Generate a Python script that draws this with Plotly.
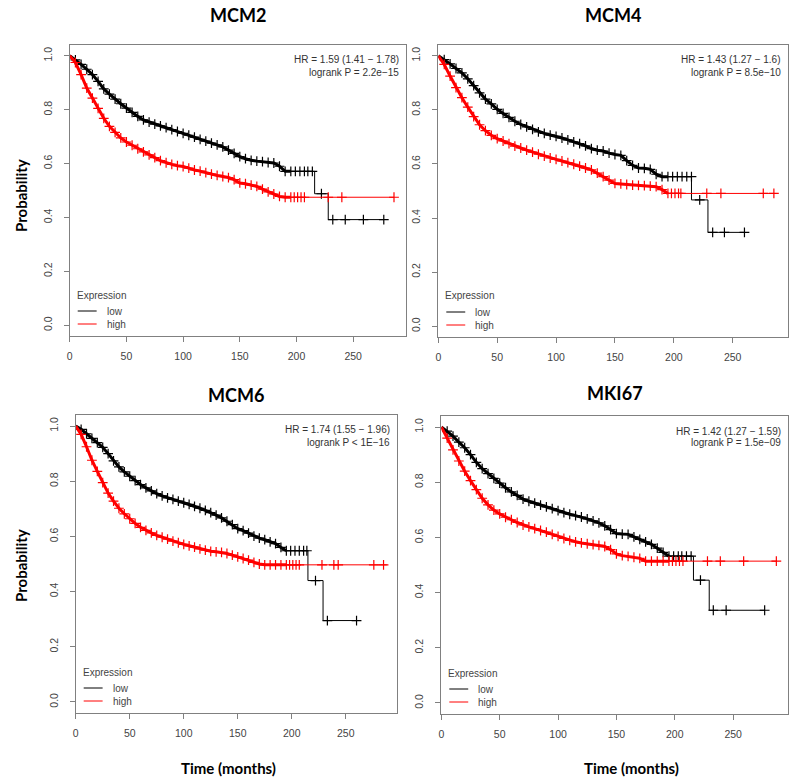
import plotly.graph_objects as go

# --- data (survival probability vs months) ---
GENES = ["MCM2", "MCM4", "MCM6", "MKI67"]
HR_TEXT = ["HR = 1.59 (1.41 − 1.78)", "HR = 1.43 (1.27 − 1.6)",
           "HR = 1.74 (1.55 − 1.96)", "HR = 1.42 (1.27 − 1.59)"]
P_TEXT = ["logrank P = 2.2e−15", "logrank P = 8.5e−10",
          "logrank P < 1E−16", "logrank P = 1.5e−09"]
GROUPS = ["low", "high"]
COLORS = ["#000000", "#ff0000"]

BODY_T = [0, 5, 10, 15, 20, 25, 30, 35, 40, 45, 50, 55, 60, 65, 70, 75, 80, 85, 90, 95,
          100, 105, 110, 115, 120, 125, 130, 135, 140, 145, 150, 155, 160, 165, 170, 175,
          180, 185, 190, 195]

# MCM2
MCM2_LOW_S = [1.0, 0.985, 0.968, 0.95, 0.93, 0.905, 0.877, 0.858, 0.839, 0.822,
              0.806, 0.79, 0.775, 0.762, 0.754, 0.746, 0.74, 0.733, 0.726, 0.719,
              0.712, 0.705, 0.698, 0.69, 0.683, 0.676, 0.669, 0.662, 0.65, 0.638,
              0.626, 0.618, 0.612, 0.609, 0.607, 0.604, 0.602, 0.59, 0.571, 0.571]
MCM2_LOW_TAIL_T = [216, 216, 228, 228, 277]
MCM2_LOW_TAIL_S = [0.571, 0.488, 0.488, 0.392, 0.392]
MCM2_LOW_CENS_T = [199, 203, 207, 210, 214, 222, 232, 243, 259, 277]
MCM2_LOW_CENS_S = [0.571, 0.571, 0.571, 0.571, 0.571, 0.488, 0.392, 0.392, 0.392, 0.392]
MCM2_HIGH_S = [1.0, 0.975, 0.93, 0.88, 0.843, 0.805, 0.768, 0.738, 0.716, 0.695,
               0.68, 0.668, 0.655, 0.643, 0.632, 0.622, 0.611, 0.603, 0.597, 0.592,
               0.589, 0.583, 0.576, 0.572, 0.566, 0.561, 0.556, 0.552, 0.548, 0.54,
               0.528, 0.525, 0.52, 0.515, 0.505, 0.495, 0.487, 0.478, 0.475, 0.475]
MCM2_HIGH_TAIL_T = [286]
MCM2_HIGH_TAIL_S = [0.475]
MCM2_HIGH_CENS_T = [198, 201, 204, 207, 228, 240, 286]
MCM2_HIGH_CENS_S = [0.475, 0.475, 0.475, 0.475, 0.475, 0.475, 0.475]

# MCM4
MCM4_LOW_S = [1.0, 0.986, 0.97, 0.953, 0.937, 0.915, 0.89, 0.863, 0.84, 0.822,
              0.802, 0.787, 0.772, 0.758, 0.746, 0.737, 0.728, 0.719, 0.713, 0.707,
              0.702, 0.696, 0.689, 0.682, 0.675, 0.667, 0.657, 0.651, 0.648, 0.64,
              0.635, 0.632, 0.612, 0.595, 0.585, 0.584, 0.58, 0.562, 0.553, 0.553]
MCM4_LOW_TAIL_T = [215, 215, 229, 229, 260]
MCM4_LOW_TAIL_S = [0.553, 0.467, 0.467, 0.347, 0.347]
MCM4_LOW_CENS_T = [199, 203, 207, 211, 215, 222, 233, 243, 260]
MCM4_LOW_CENS_S = [0.553, 0.553, 0.553, 0.553, 0.553, 0.467, 0.347, 0.347, 0.347]
MCM4_HIGH_S = [1.0, 0.968, 0.925, 0.882, 0.845, 0.81, 0.775, 0.745, 0.723, 0.706,
               0.694, 0.685, 0.675, 0.666, 0.659, 0.651, 0.644, 0.636, 0.629, 0.622,
               0.617, 0.611, 0.605, 0.599, 0.592, 0.585, 0.578, 0.566, 0.553, 0.54,
               0.528, 0.526, 0.524, 0.522, 0.521, 0.52, 0.518, 0.516, 0.505, 0.491]
MCM4_HIGH_TAIL_T = [285]
MCM4_HIGH_TAIL_S = [0.491]
MCM4_HIGH_CENS_T = [198, 201, 204, 206, 228, 240, 276, 285]
MCM4_HIGH_CENS_S = [0.491, 0.491, 0.491, 0.491, 0.491, 0.491, 0.491, 0.491]

# MCM6
MCM6_LOW_S = [1.0, 0.988, 0.972, 0.955, 0.94, 0.923, 0.9, 0.874, 0.852, 0.834,
              0.818, 0.802, 0.788, 0.776, 0.765, 0.755, 0.747, 0.74, 0.734, 0.728,
              0.722, 0.716, 0.709, 0.702, 0.694, 0.686, 0.677, 0.667, 0.655, 0.643,
              0.628, 0.621, 0.612, 0.601, 0.594, 0.588, 0.58, 0.574, 0.56, 0.548]
MCM6_LOW_TAIL_T = [215, 215, 229, 229, 260]
MCM6_LOW_TAIL_S = [0.548, 0.44, 0.44, 0.295, 0.295]
MCM6_LOW_CENS_T = [199, 203, 207, 211, 214, 222, 233, 260]
MCM6_LOW_CENS_S = [0.548, 0.548, 0.548, 0.548, 0.548, 0.44, 0.295, 0.295]
MCM6_HIGH_S = [1.0, 0.97, 0.925, 0.876, 0.836, 0.795, 0.757, 0.728, 0.702, 0.682,
               0.664, 0.647, 0.633, 0.622, 0.613, 0.604, 0.597, 0.59, 0.583, 0.577,
               0.571, 0.566, 0.561, 0.555, 0.55, 0.546, 0.544, 0.542, 0.538, 0.532,
               0.526, 0.52, 0.514, 0.506, 0.5, 0.497, 0.497, 0.497, 0.497, 0.497]
MCM6_HIGH_TAIL_T = [288]
MCM6_HIGH_TAIL_S = [0.497]
MCM6_HIGH_CENS_T = [198, 201, 204, 207, 228, 239, 243, 276, 285]
MCM6_HIGH_CENS_S = [0.497, 0.497, 0.497, 0.497, 0.497, 0.497, 0.497, 0.497, 0.497]

# MKI67
MKI67_LOW_S = [1.0, 0.985, 0.967, 0.945, 0.925, 0.9, 0.872, 0.849, 0.831, 0.814,
               0.797, 0.78, 0.765, 0.752, 0.739, 0.731, 0.724, 0.717, 0.711, 0.704,
               0.697, 0.69, 0.684, 0.679, 0.674, 0.667, 0.66, 0.653, 0.642, 0.628,
               0.614, 0.612, 0.611, 0.602, 0.593, 0.584, 0.575, 0.561, 0.546, 0.532]
MKI67_LOW_TAIL_T = [216, 216, 229.5, 229.5, 277]
MKI67_LOW_TAIL_S = [0.532, 0.445, 0.445, 0.336, 0.336]
MKI67_LOW_CENS_T = [199, 203, 206, 210, 214, 222, 233, 244, 277]
MKI67_LOW_CENS_S = [0.532, 0.532, 0.532, 0.532, 0.532, 0.445, 0.336, 0.336, 0.336]
MKI67_HIGH_S = [1.0, 0.96, 0.917, 0.877, 0.84, 0.806, 0.773, 0.742, 0.718, 0.699,
                0.685, 0.673, 0.664, 0.654, 0.645, 0.638, 0.632, 0.625, 0.619, 0.611,
                0.604, 0.596, 0.589, 0.584, 0.58, 0.577, 0.574, 0.571, 0.567, 0.556,
                0.54, 0.534, 0.531, 0.528, 0.524, 0.514, 0.514, 0.514, 0.514, 0.514]
MKI67_HIGH_TAIL_T = [287]
MKI67_HIGH_TAIL_S = [0.514]
MKI67_HIGH_CENS_T = [198, 201, 204, 207, 228, 239, 259, 287]
MKI67_HIGH_CENS_S = [0.514, 0.514, 0.514, 0.514, 0.514, 0.514, 0.514, 0.514]

CURVES = {
    "MCM2": [(MCM2_LOW_S, MCM2_LOW_TAIL_T, MCM2_LOW_TAIL_S, MCM2_LOW_CENS_T, MCM2_LOW_CENS_S),
             (MCM2_HIGH_S, MCM2_HIGH_TAIL_T, MCM2_HIGH_TAIL_S, MCM2_HIGH_CENS_T, MCM2_HIGH_CENS_S)],
    "MCM4": [(MCM4_LOW_S, MCM4_LOW_TAIL_T, MCM4_LOW_TAIL_S, MCM4_LOW_CENS_T, MCM4_LOW_CENS_S),
             (MCM4_HIGH_S, MCM4_HIGH_TAIL_T, MCM4_HIGH_TAIL_S, MCM4_HIGH_CENS_T, MCM4_HIGH_CENS_S)],
    "MCM6": [(MCM6_LOW_S, MCM6_LOW_TAIL_T, MCM6_LOW_TAIL_S, MCM6_LOW_CENS_T, MCM6_LOW_CENS_S),
             (MCM6_HIGH_S, MCM6_HIGH_TAIL_T, MCM6_HIGH_TAIL_S, MCM6_HIGH_CENS_T, MCM6_HIGH_CENS_S)],
    "MKI67": [(MKI67_LOW_S, MKI67_LOW_TAIL_T, MKI67_LOW_TAIL_S, MKI67_LOW_CENS_T, MKI67_LOW_CENS_S),
              (MKI67_HIGH_S, MKI67_HIGH_TAIL_T, MKI67_HIGH_TAIL_S, MKI67_HIGH_CENS_T, MKI67_HIGH_CENS_S)],
}

X_TICKS = [0, 50, 100, 150, 200, 250]
Y_TICKS = [0.0, 0.2, 0.4, 0.6, 0.8, 1.0]

# --- layout in pixels ---
W, H = 791, 779
# left, right, top, bottom of each plot box
BOXES = [(67, 405, 45, 336), (437, 788, 45, 337), (73, 395, 415, 713), (440, 788, 416, 714)]
TITLE_Y = [15, 15, 395, 393]
AXIS_GRAY = "#808080"
TEXT_GRAY = "#444444"
SANS = "Liberation Sans, Arial"
BOLD_FONT = "Lato, Open Sans, sans-serif"


def px_x(p):
    return p / W


def px_y(p):
    return 1 - p / H


def note(text, x, y, size=10, color=TEXT_GRAY, family=SANS, xanchor="center", **kw):
    fig.add_annotation(text=text, xref="paper", yref="paper", x=px_x(x), y=px_y(y),
                       xanchor=xanchor, yanchor="middle", showarrow=False,
                       font=dict(family=family, size=size, color=color), **kw)


fig = go.Figure()

for i, gene in enumerate(GENES):
    n = "" if i == 0 else str(i + 1)
    xa, ya = "x" + n, "y" + n
    for g, (body_s, tail_t, tail_s, cens_t, cens_s) in enumerate(CURVES[gene]):
        # dense part of the curve (many overlapping censor ticks -> thick band)
        fig.add_trace(go.Scatter(
            x=BODY_T, y=body_s, mode="lines",
            line=dict(color=COLORS[g], width=3),
            showlegend=False, xaxis=xa, yaxis=ya, hoverinfo="skip",
        ))
        # sparse tail, plain step line
        fig.add_trace(go.Scatter(
            x=BODY_T[-1:] + tail_t, y=body_s[-1:] + tail_s, mode="lines",
            line=dict(color=COLORS[g], width=1),
            showlegend=False, xaxis=xa, yaxis=ya, hoverinfo="skip",
        ))
        # censor marks
        fig.add_trace(go.Scatter(
            x=BODY_T[1:] + cens_t, y=body_s[1:] + cens_s, mode="markers",
            marker=dict(symbol="cross-thin", size=7, color=COLORS[g],
                        line=dict(color=COLORS[g], width=1.2)),
            showlegend=False, xaxis=xa, yaxis=ya, hoverinfo="skip",
        ))

    left, right, top, bottom = BOXES[i]
    axis_common = dict(
        showline=True, mirror=True, linecolor=AXIS_GRAY, linewidth=1,
        ticks="outside", ticklen=5, tickcolor=AXIS_GRAY, tickwidth=1,
        showgrid=False, zeroline=False,
        tickfont=dict(family=SANS, size=10.5, color=TEXT_GRAY),
    )
    fig.update_layout(**{
        "xaxis" + n: dict(domain=[px_x(left), px_x(right)], anchor=ya, range=[0, 297],
                          tickvals=X_TICKS, ticklabelstandoff=5, **axis_common),
        "yaxis" + n: dict(domain=[px_y(bottom), px_y(top)], anchor=xa, range=[-0.04, 1.04],
                          tickvals=Y_TICKS, ticktext=["%.1f" % v for v in Y_TICKS],
                          tickangle=-90, ticklabelstandoff=8, **axis_common),
    })

    # gene title
    note("<b>%s</b>" % gene, (left + right) / 2, TITLE_Y[i], size=18,
         color="#000000", family=BOLD_FONT)
    # HR and logrank text
    note(HR_TEXT[i], right - 5, top + 15, color="#333333", xanchor="right")
    note(P_TEXT[i], right - 5, top + 27, color="#333333", xanchor="right")

    # legend block (Expression / low / high)
    note("Expression", left + 5, bottom - 41, xanchor="left")
    for g, dy in enumerate([25, 12]):
        note(GROUPS[g], left + 35, bottom - dy, xanchor="left")
        fig.add_shape(type="line", xref="paper", yref="paper",
                      x0=px_x(left + 8), x1=px_x(left + 27),
                      y0=px_y(bottom - dy), y1=px_y(bottom - dy),
                      line=dict(color=COLORS[g], width=1))

# shared axis labels
for yc in [195, 565]:
    note("<b>Probability</b>", 18, yc, size=15, color="#000000", family=BOLD_FONT,
         textangle=-90)
for xc in [226, 631]:
    note("<b>Time (months)</b>", xc, 768, size=15, color="#000000", family=BOLD_FONT)

fig.update_layout(
    width=W, height=H, autosize=False,
    margin=dict(l=0, r=0, t=0, b=0),
    paper_bgcolor="white", plot_bgcolor="white",
    font=dict(family=SANS, color=TEXT_GRAY),
)

fig.write_html("out.html", config={"displayModeBar": False},
               post_script="document.body.style.margin = '0';")
